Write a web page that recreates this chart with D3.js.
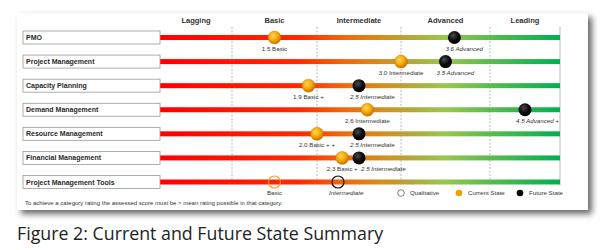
<!DOCTYPE html>
<html>
<head>
<meta charset="utf-8">
<script src="https://cdn.jsdelivr.net/npm/d3@7"></script>
<style>
  body { margin: 0; background: #fff; }
  svg { display: block; }
</style>
</head>
<body>
<svg id="chart" width="612" height="250"></svg>
<script>
const categories = ['PMO', 'Project Management', 'Capacity Planning', 'Demand Management',
  'Resource Management', 'Financial Management', 'Project Management Tools'];
const levels = ['Lagging', 'Basic', 'Intermediate', 'Advanced', 'Leading'];
const levelBounds = [0, 1, 2, 3, 4, 5];
const currentValues = [1.5, 3.0, 1.9, 2.6, 2.0, 2.3, 1.5];
const currentLabels = ['1.5 Basic', '3.0 Intermediate', '1.9 Basic +', '2.6 Intermediate',
  '2.0 Basic + +', '2.3 Basic +', 'Basic'];
const futureValues = [3.6, 3.5, 2.5, 4.5, 2.5, 2.5, 2.25];
const futureLabels = ['3.6 Advanced', '3.5 Advanced', '2.5 Intermediate', '4.5 Advanced +',
  '2.5 Intermediate', '2.5 Intermediate', 'Intermediate'];
const qualitative = [false, false, false, false, false, false, true];
const legendItems = ['Qualitative', 'Current State', 'Future State'];
const footnote = 'To achieve a category rating the assessed score must be > mean rating possible in that category.';
const caption = 'Figure 2: Current and Future State Summary';

const svg = d3.select('#chart');
const font = 'Liberation Sans, Arial, sans-serif';

// uneven band widths, so piecewise linear
const x = d3.scaleLinear().domain(levelBounds).range([160, 232, 317, 401, 490, 560]);
const y = d3.scalePoint().domain(categories).range([37.5, 182]);

const defs = svg.append('defs');
const shadow = defs.append('filter').attr('id', 'shadow')
  .attr('x', '-5%').attr('y', '-5%').attr('width', '115%').attr('height', '125%');
shadow.append('feGaussianBlur').attr('in', 'SourceAlpha').attr('stdDeviation', 3);
shadow.append('feOffset').attr('dx', 4).attr('dy', 4).attr('result', 'blur');
shadow.append('feComponentTransfer').append('feFuncA').attr('type', 'linear').attr('slope', 0.6);
const merge = shadow.append('feMerge');
merge.append('feMergeNode');
merge.append('feMergeNode').attr('in', 'SourceGraphic');

const barGrad = defs.append('linearGradient').attr('id', 'barGrad')
  .attr('gradientUnits', 'userSpaceOnUse')
  .attr('x1', x(0)).attr('x2', x(5)).attr('y1', 0).attr('y2', 0);
[[0, '#ff0000'], [0.35, '#ff2a00'], [0.46, '#f2680c'], [0.56, '#d3901c'],
  [0.63, '#b3a83a'], [0.71, '#98c84a'], [0.82, '#5cbc4e'], [1, '#00b050']]
  .forEach(([o, c]) => barGrad.append('stop').attr('offset', o).attr('stop-color', c));

const orangeBall = defs.append('radialGradient').attr('id', 'orangeBall')
  .attr('cx', '40%').attr('cy', '35%').attr('r', '65%');
orangeBall.append('stop').attr('offset', 0).attr('stop-color', '#ffd95a');
orangeBall.append('stop').attr('offset', 0.6).attr('stop-color', '#f5a200');
orangeBall.append('stop').attr('offset', 1).attr('stop-color', '#c87400');

const blackBall = defs.append('radialGradient').attr('id', 'blackBall')
  .attr('cx', '40%').attr('cy', '35%').attr('r', '65%');
blackBall.append('stop').attr('offset', 0).attr('stop-color', '#4a4a4a');
blackBall.append('stop').attr('offset', 0.6).attr('stop-color', '#0a0a0a');
blackBall.append('stop').attr('offset', 1).attr('stop-color', '#000');

// panel with drop shadow
svg.append('rect')
  .attr('x', 17).attr('y', 13).attr('width', 571).attr('height', 197)
  .attr('fill', '#fff').attr('filter', 'url(#shadow)');

// column headers
svg.append('g').selectAll('text').data(levels).join('text')
  .attr('x', (d, i) => (x(levelBounds[i]) + x(levelBounds[i + 1])) / 2)
  .attr('y', 23)
  .attr('text-anchor', 'middle')
  .attr('font-family', font).attr('font-weight', 'bold').attr('font-size', 7.5)
  .attr('fill', '#333')
  .text(d => d);

// grid lines
svg.append('g').selectAll('line').data(levelBounds.slice(1)).join('line')
  .attr('x1', d => x(d)).attr('x2', d => x(d))
  .attr('y1', 27).attr('y2', 185)
  .attr('stroke', '#aaa').attr('stroke-width', 0.8)
  .attr('stroke-dasharray', d => d === 5 ? null : '2,1.5');

// bars
svg.append('g').selectAll('rect').data(categories).join('rect')
  .attr('x', x(0)).attr('width', x(5) - x(0))
  .attr('y', d => y(d) - 2.5).attr('height', 5)
  .attr('fill', 'url(#barGrad)');

// category label boxes
const rows = svg.append('g').selectAll('g').data(categories).join('g')
  .attr('transform', d => `translate(23,${y(d) - 6.5})`);
rows.append('rect')
  .attr('width', 137).attr('height', 13)
  .attr('fill', '#fff').attr('stroke', '#999').attr('stroke-width', 0.8);
rows.append('text')
  .attr('x', 3).attr('y', 9)
  .attr('font-family', font).attr('font-weight', 'bold').attr('font-size', 7)
  .attr('fill', '#2a2a2a')
  .text(d => d);

// markers
const pts = svg.append('g').selectAll('g').data(categories).join('g');
pts.each(function(cat, i) {
  const g = d3.select(this);
  const cy = y(cat);
  const cx = x(currentValues[i]);
  const fx = x(futureValues[i]);
  if (qualitative[i]) {
    g.append('circle').attr('cx', cx).attr('cy', cy).attr('r', 6)
      .attr('fill', 'none').attr('stroke', '#f5a020').attr('stroke-width', 1.2);
    g.append('circle').attr('cx', fx).attr('cy', cy).attr('r', 6)
      .attr('fill', 'none').attr('stroke', '#111').attr('stroke-width', 1.2);
  } else {
    g.append('circle').attr('cx', cx).attr('cy', cy).attr('r', 6.5)
      .attr('fill', 'url(#orangeBall)').attr('stroke', '#b86a00').attr('stroke-width', 0.4);
    g.append('circle').attr('cx', fx).attr('cy', cy).attr('r', 6.5)
      .attr('fill', 'url(#blackBall)');
  }
  const cur = g.append('text')
    .attr('x', cx).attr('y', cy + 13)
    .attr('text-anchor', 'middle')
    .attr('font-family', font).attr('font-size', 6.2).attr('fill', '#333')
    .text(currentLabels[i]);
  const bb = cur.node().getBBox();
  g.append('text')
    .attr('x', Math.max(fx - 9, bb.x + bb.width + 3)).attr('y', cy + 13)
    .attr('font-family', font).attr('font-style', 'italic').attr('font-size', 6.2)
    .attr('fill', '#333')
    .text(futureLabels[i]);
});

// legend
const legend = svg.append('g').selectAll('g').data(legendItems).join('g')
  .attr('transform', (d, i) => `translate(${[401, 459, 520][i]},193)`);
legend.append('circle')
  .attr('r', 3.3)
  .attr('fill', (d, i) => ['#fff', '#f5a000', '#000'][i])
  .attr('stroke', (d, i) => ['#333', 'none', 'none'][i])
  .attr('stroke-width', 0.6);
legend.append('text')
  .attr('x', 9).attr('y', 2.2)
  .attr('font-family', font).attr('font-size', 6.2).attr('fill', '#333')
  .text(d => d);

svg.append('text')
  .attr('x', 25).attr('y', 205)
  .attr('font-family', font).attr('font-size', 6).attr('fill', '#333')
  .text(footnote);

svg.append('text')
  .attr('x', 17).attr('y', 240)
  .attr('font-family', 'Open Sans, sans-serif').attr('font-size', 17.8)
  .attr('fill', '#222')
  .text(caption);
</script>
</body>
</html>
